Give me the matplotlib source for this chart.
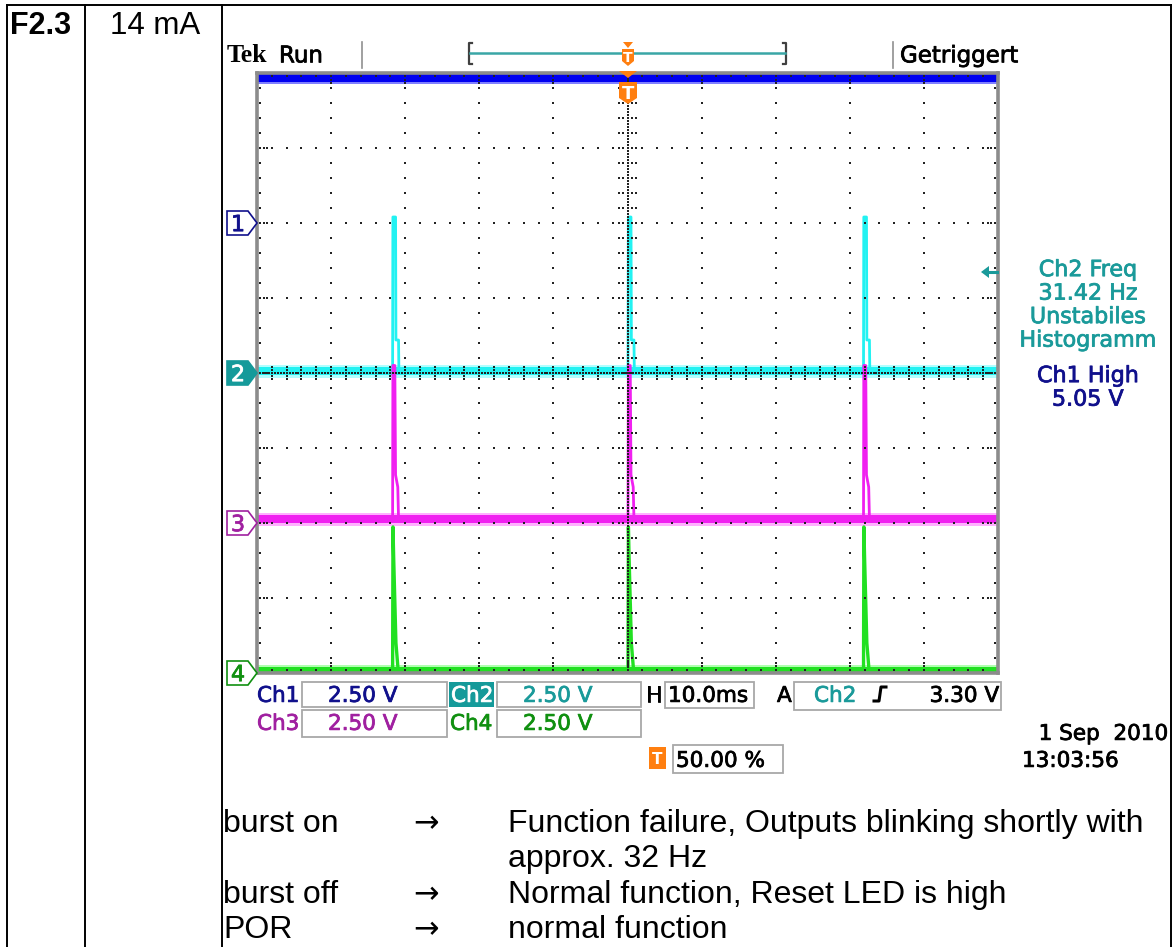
import matplotlib
matplotlib.use("Agg")
import matplotlib.pyplot as plt
from matplotlib.patches import Polygon, Rectangle
from matplotlib.lines import Line2D
import matplotlib.patheffects as pe
import numpy as np

W, H = 1176, 947
fig = plt.figure(figsize=(W / 100, H / 100), dpi=100)
fig.patch.set_facecolor("white")

# ---------------- data ----------------
row_id = "F2.3"
row_current = "14 mA"
channel_names = ["Ch1", "Ch2", "Ch3", "Ch4"]
channel_volts_per_div = [2.5, 2.5, 2.5, 2.5]
channel_offsets_div = [2, 0, -2, -4]
time_per_div_ms = 10.0
n_divs_x = 10
n_divs_y = 8

burst_times_ms = [-31.7, 0.07, 31.85]

ch1_level_V = 4.88
ch2_base_V = 0.08
ch3_base_V = 0.15
ch4_base_V = 0.08

# pulse profiles relative to each burst time (ms, volts)
ch2_pulse_t = [0.0, 0.04, 0.40, 0.45, 0.80, 0.85]
ch2_pulse_V = [0.08, 5.20, 5.20, 1.10, 1.10, 0.08]
ch3_pulse_t = [0.0, 0.04, 0.30, 0.40, 0.70, 0.80]
ch3_pulse_V = [0.15, 5.25, 5.25, 1.60, 1.20, 0.15]
ch4_pulse_t = [0.0, 0.05, 0.15, 0.45, 0.75]
ch4_pulse_V = [0.08, 4.87, 3.80, 1.00, 0.08]

meas_ch2 = ["Ch2 Freq", "31.42 Hz", "Unstabiles", "Histogramm"]
meas_ch1 = ["Ch1 High", "5.05 V"]
volt_labels = ["2.50 V", "2.50 V", "2.50 V", "2.50 V"]
timebase_label = "10.0ms"
trigger_source = "Ch2"
trigger_level = "3.30 V"
trigger_pos = "50.00 %"
date_label = "1 Sep  2010"
time_label = "13:03:56"
status_left = "Run"
status_right = "Getriggert"
notes_left = ["burst on", "", "burst off", "POR"]
notes_right = ["Function failure, Outputs blinking shortly with",
               "approx. 32 Hz",
               "Normal function, Reset LED is high",
               "normal function"]

# ---------------- colours ----------------
trace_cols = ["#0000f0", "#22f2f2", "#f020f0", "#22e022"]
fringe_cols = ["#8080ff", "#b0ffff", "#ffb0ff", "#b0ffb0"]
text_cols = ["#10108c", "#1a9a9a", "#a020a0", "#109010"]
ORANGE = "#ff7f10"
BOXC = "#a8a8a8"
SCOPE_FONT = "DejaVu Sans"
DOC_FONT = ["Liberation Sans", "DejaVu Sans"]


# ---------------- pixel helpers ----------------
def P(x, y):
    return (x / W, 1 - y / H)


def line_px(xs, ys, **kw):
    fig.add_artist(Line2D([x / W for x in xs], [1 - y / H for y in ys],
                          transform=fig.transFigure, **kw))


def poly_px(pts, **kw):
    fig.add_artist(Polygon([P(x, y) for x, y in pts], closed=True,
                           transform=fig.transFigure, **kw))


def rect_px(x0, y0, x1, y1, **kw):
    fig.add_artist(Rectangle(P(x0, y1), (x1 - x0) / W, (y1 - y0) / H,
                             transform=fig.transFigure, **kw))


def text_base(x, baseline, s, size, **kw):
    return fig.text(x / W, 1 - baseline / H, s, size=size, va="baseline", **kw)


def text_px(x, yc, s, size, cap=0.73, **kw):
    return text_base(x, yc + cap * size * 100 / 72 / 2, s, size, **kw)


def scope_text(x, yc, s, size, color, **kw):
    t = text_px(x, yc, s, size, family=SCOPE_FONT, color=color, **kw)
    t.set_path_effects([pe.withStroke(linewidth=0.55, foreground=color)])
    return t


# ---------------- document table ----------------
LW_T = 1.4
line_px([7, 7], [5, H], color="black", lw=LW_T)
line_px([85, 85], [5, H], color="black", lw=LW_T)
line_px([222, 222], [5, H], color="black", lw=LW_T)
line_px([1171, 1171], [5, H], color="black", lw=LW_T)
line_px([7, 1171], [5, 5], color="black", lw=LW_T)

text_px(10, 23, row_id, 22, cap=0.716, family=DOC_FONT, weight="bold")
text_px(110, 23, row_current, 22.5, cap=0.716, family=DOC_FONT)

NOTE_FS = 23
note_rows = [821, 856, 892, 927]
for yc, l, r in zip(note_rows, notes_left, notes_right):
    base = yc + 0.716 * NOTE_FS * 100 / 72 / 2
    if l:
        text_base(223, base, l, NOTE_FS, family=DOC_FONT)
        text_base(413, base, "\u2192", 22, family="DejaVu Sans")
    text_base(508, base, r, NOTE_FS, family=DOC_FONT)

# ---------------- graticule axes ----------------
GL, GR, GT, GB = 257, 998, 73, 673
ax = fig.add_axes([GL / W, 1 - GB / H, (GR - GL) / W, (GB - GT) / H])
half_t = time_per_div_ms * n_divs_x / 2
half_v = n_divs_y / 2
ax.set_xlim(-half_t, half_t)
ax.set_ylim(-half_v, half_v)
ax.set_xticks([])
ax.set_yticks([])
for s in ax.spines.values():
    s.set_color("#8c8c8c")
    s.set_linewidth(2.6)
    s.set_zorder(6)


def to_div(v, ch):
    return channel_offsets_div[ch] + v / channel_volts_per_div[ch]


def build_trace(ch, base, pt, pv):
    xs = [-half_t]
    ys = [base]
    for t0 in burst_times_ms:
        for dt, v in zip(pt, pv):
            xs.append(t0 + dt)
            ys.append(v)
    xs.append(half_t)
    ys.append(base)
    return xs, [to_div(v, ch) for v in ys]


def band(ch, level, core_px=8, fringe_px=12):
    y = to_div(level, ch)
    ax.plot([-half_t, half_t], [y, y], color=fringe_cols[ch], lw=fringe_px * 0.72,
            solid_capstyle="butt", zorder=2)
    ax.plot([-half_t, half_t], [y, y], color=trace_cols[ch], lw=core_px * 0.72,
            solid_capstyle="butt", zorder=2.1)


# ch4 green
band(3, ch4_base_V)
xs, ys = build_trace(3, ch4_base_V, ch4_pulse_t, ch4_pulse_V)
ax.plot(xs, ys, color=trace_cols[3], lw=2.4, zorder=2.2)
# ch2 cyan
band(1, ch2_base_V, core_px=8, fringe_px=13)
xs, ys = build_trace(1, ch2_base_V, ch2_pulse_t, ch2_pulse_V)
ax.plot(xs, ys, color=trace_cols[1], lw=2.0, zorder=2.2)
# ch3 magenta
band(2, ch3_base_V, core_px=8, fringe_px=13)
xs, ys = build_trace(2, ch3_base_V, ch3_pulse_t, ch3_pulse_V)
ax.plot(xs, ys, color=trace_cols[2], lw=2.0, zorder=2.3)
# ch1 blue (clipped at top)
band(0, ch1_level_V, core_px=10, fringe_px=14)

# graticule dots
dot = dict(s=2.3, c="#222222", marker="s", linewidths=0, zorder=5)
step_x = time_per_div_ms / 5
ys_minor = np.arange(-half_v, half_v + 1e-9, 0.2)
xs_minor = np.arange(-half_t, half_t + 1e-9, step_x)
for k in range(1, n_divs_x):
    xv = -half_t + k * time_per_div_ms
    if abs(xv) < 1e-9:
        continue
    ax.scatter(np.full_like(ys_minor, xv), ys_minor, **dot)
for k in range(1, n_divs_y):
    yv = -half_v + k
    if abs(yv) < 1e-9:
        continue
    ax.scatter(xs_minor, np.full_like(xs_minor, yv), **dot)
# centre cross: dense dotted lines with small ticks
dense_y = np.arange(-half_v, half_v, 0.04)
ax.scatter(np.zeros_like(dense_y), dense_y, **dot)
dense_x = np.arange(-half_t, half_t, 0.4)
ax.scatter(dense_x, np.zeros_like(dense_x), **dot)
for dx in (-1.1, -0.55, 0.55, 1.1):
    ax.scatter(np.full_like(ys_minor, dx), ys_minor, **dot)
for dy in (-0.08, -0.04, 0.04, 0.08):
    ax.scatter(xs_minor, np.full_like(xs_minor, dy), **dot)
# edge ticks
ex = 0.45
ey = 0.045
for sgn in (-1, 1):
    ax.scatter(np.full_like(ys_minor, sgn * (half_t - ex)), ys_minor, **dot)
    ax.scatter(xs_minor, np.full_like(xs_minor, sgn * (half_v - ey)), **dot)
    majors_y = np.arange(-half_v, half_v + 1e-9, 1.0)
    majors_x = np.arange(-half_t, half_t + 1e-9, time_per_div_ms)
    for m in (2, 3):
        ax.scatter(np.full_like(majors_y, sgn * (half_t - m * ex)), majors_y, **dot)
        ax.scatter(majors_x, np.full_like(majors_x, sgn * (half_v - m * ey)), **dot)


# ---------------- channel ground markers ----------------
def ch_marker(ch, filled):
    yc = GT + (half_v - channel_offsets_div[ch]) / n_divs_y * (GB - GT)
    pts = [(227, yc - 12), (248, yc - 12), (257, yc), (248, yc + 12), (227, yc + 12)]
    if filled:
        poly_px(pts, facecolor="#159a9a", edgecolor="#159a9a", lw=1.2, zorder=8)
        col = "white"
    else:
        poly_px(pts, facecolor="white", edgecolor=text_cols[ch], lw=1.2, zorder=8)
        col = text_cols[ch]
    scope_text(238, yc, str(ch + 1), 16, col, ha="center", zorder=9)


ch_marker(0, False)
ch_marker(1, True)
ch_marker(2, False)
ch_marker(3, False)

# ---------------- top status bar ----------------
text_px(227, 54, "Tek", 18.5, cap=0.66, family="Liberation Serif", weight="bold", color="black")
scope_text(279, 54, status_left, 16.5, "black")
line_px([362, 362], [42, 68], color="#909090", lw=1.2)
line_px([893, 893], [42, 68], color="#909090", lw=1.2)
scope_text(900, 54, status_right, 16.5, "black")
# record-window bracket
line_px([472, 469, 469, 472], [43, 43, 64, 64], color="#404040", lw=1.6)
line_px([783, 786, 786, 783], [43, 43, 64, 64], color="#404040", lw=1.6)
line_px([470, 785], [53, 53], color="#3aa6a6", lw=1.8)
# trigger position icons
poly_px([(623, 42), (633, 42), (628, 48)], facecolor=ORANGE, edgecolor="none", zorder=8)
poly_px([(622, 49), (634, 49), (634, 61), (628, 66), (622, 61)], facecolor=ORANGE,
        edgecolor="none", zorder=8)
text_px(628, 57, "T", 10, family=SCOPE_FONT, weight="bold", color="white", ha="center", zorder=9)
poly_px([(619, 71), (637, 71), (628, 78)], facecolor=ORANGE, edgecolor="none", zorder=8)
poly_px([(619, 82), (637, 82), (637, 98), (628, 104), (619, 98)], facecolor=ORANGE,
        edgecolor="none", zorder=8)
text_px(628, 92, "T", 13, family=SCOPE_FONT, weight="bold", color="white", ha="center", zorder=9)

# ---------------- measurement readouts ----------------
poly_px([(981, 272), (989, 266), (989, 278)], facecolor=text_cols[1], edgecolor="none")
line_px([988, 997], [272, 272], color=text_cols[1], lw=2.2)
for i, s in enumerate(meas_ch2):
    scope_text(1088, 268 + i * 23.5, s, 16, text_cols[1], ha="center")
for i, s in enumerate(meas_ch1):
    scope_text(1088, 374 + i * 23.5, s, 16, text_cols[0], ha="center")

# ---------------- bottom readout ----------------
FS = 15.5
r1, r2, r3 = 694, 722, 759
scope_text(257, r1, channel_names[0], FS, text_cols[0])
rect_px(302, 682, 447, 707, facecolor="white", edgecolor=BOXC, lw=1.3)
scope_text(328, r1, volt_labels[0], FS, text_cols[0])
rect_px(449, 682, 494, 707, facecolor="#159a9a", edgecolor="none")
scope_text(451, r1, channel_names[1], FS, "white")
rect_px(497, 682, 641, 707, facecolor="white", edgecolor=BOXC, lw=1.3)
scope_text(523, r1, volt_labels[1], FS, text_cols[1])
scope_text(646, r1, "H", FS, "black")
rect_px(665, 682, 754, 708, facecolor="white", edgecolor=BOXC, lw=1.3)
scope_text(668, r1, timebase_label, FS, "black")
scope_text(777, r1, "A", FS, "black")
rect_px(794, 682, 1001, 710, facecolor="white", edgecolor=BOXC, lw=1.3)
scope_text(814, r1, trigger_source, FS, text_cols[1])
line_px([874, 879, 881, 886], [701, 701, 687, 687], color="black", lw=2.2)
scope_text(999, r1, trigger_level, FS, "black", ha="right")

scope_text(257, r2, channel_names[2], FS, text_cols[2])
rect_px(302, 710, 447, 737, facecolor="white", edgecolor=BOXC, lw=1.3)
scope_text(328, r2, volt_labels[2], FS, text_cols[2])
scope_text(450, r2, channel_names[3], FS, text_cols[3])
rect_px(497, 710, 641, 737, facecolor="white", edgecolor=BOXC, lw=1.3)
scope_text(523, r2, volt_labels[3], FS, text_cols[3])

rect_px(649, 747, 666, 769, facecolor=ORANGE, edgecolor="none")
text_px(657.5, 758, "T", 11, family=SCOPE_FONT, weight="bold", color="white", ha="center")
rect_px(673, 745, 783, 773, facecolor="white", edgecolor=BOXC, lw=1.3)
scope_text(676, r3, trigger_pos, FS, "black")

scope_text(1168, 732, date_label, FS, "black", ha="right")
scope_text(1022, r3, time_label, FS, "black")

fig.savefig("out.png", dpi=100, facecolor="white")
